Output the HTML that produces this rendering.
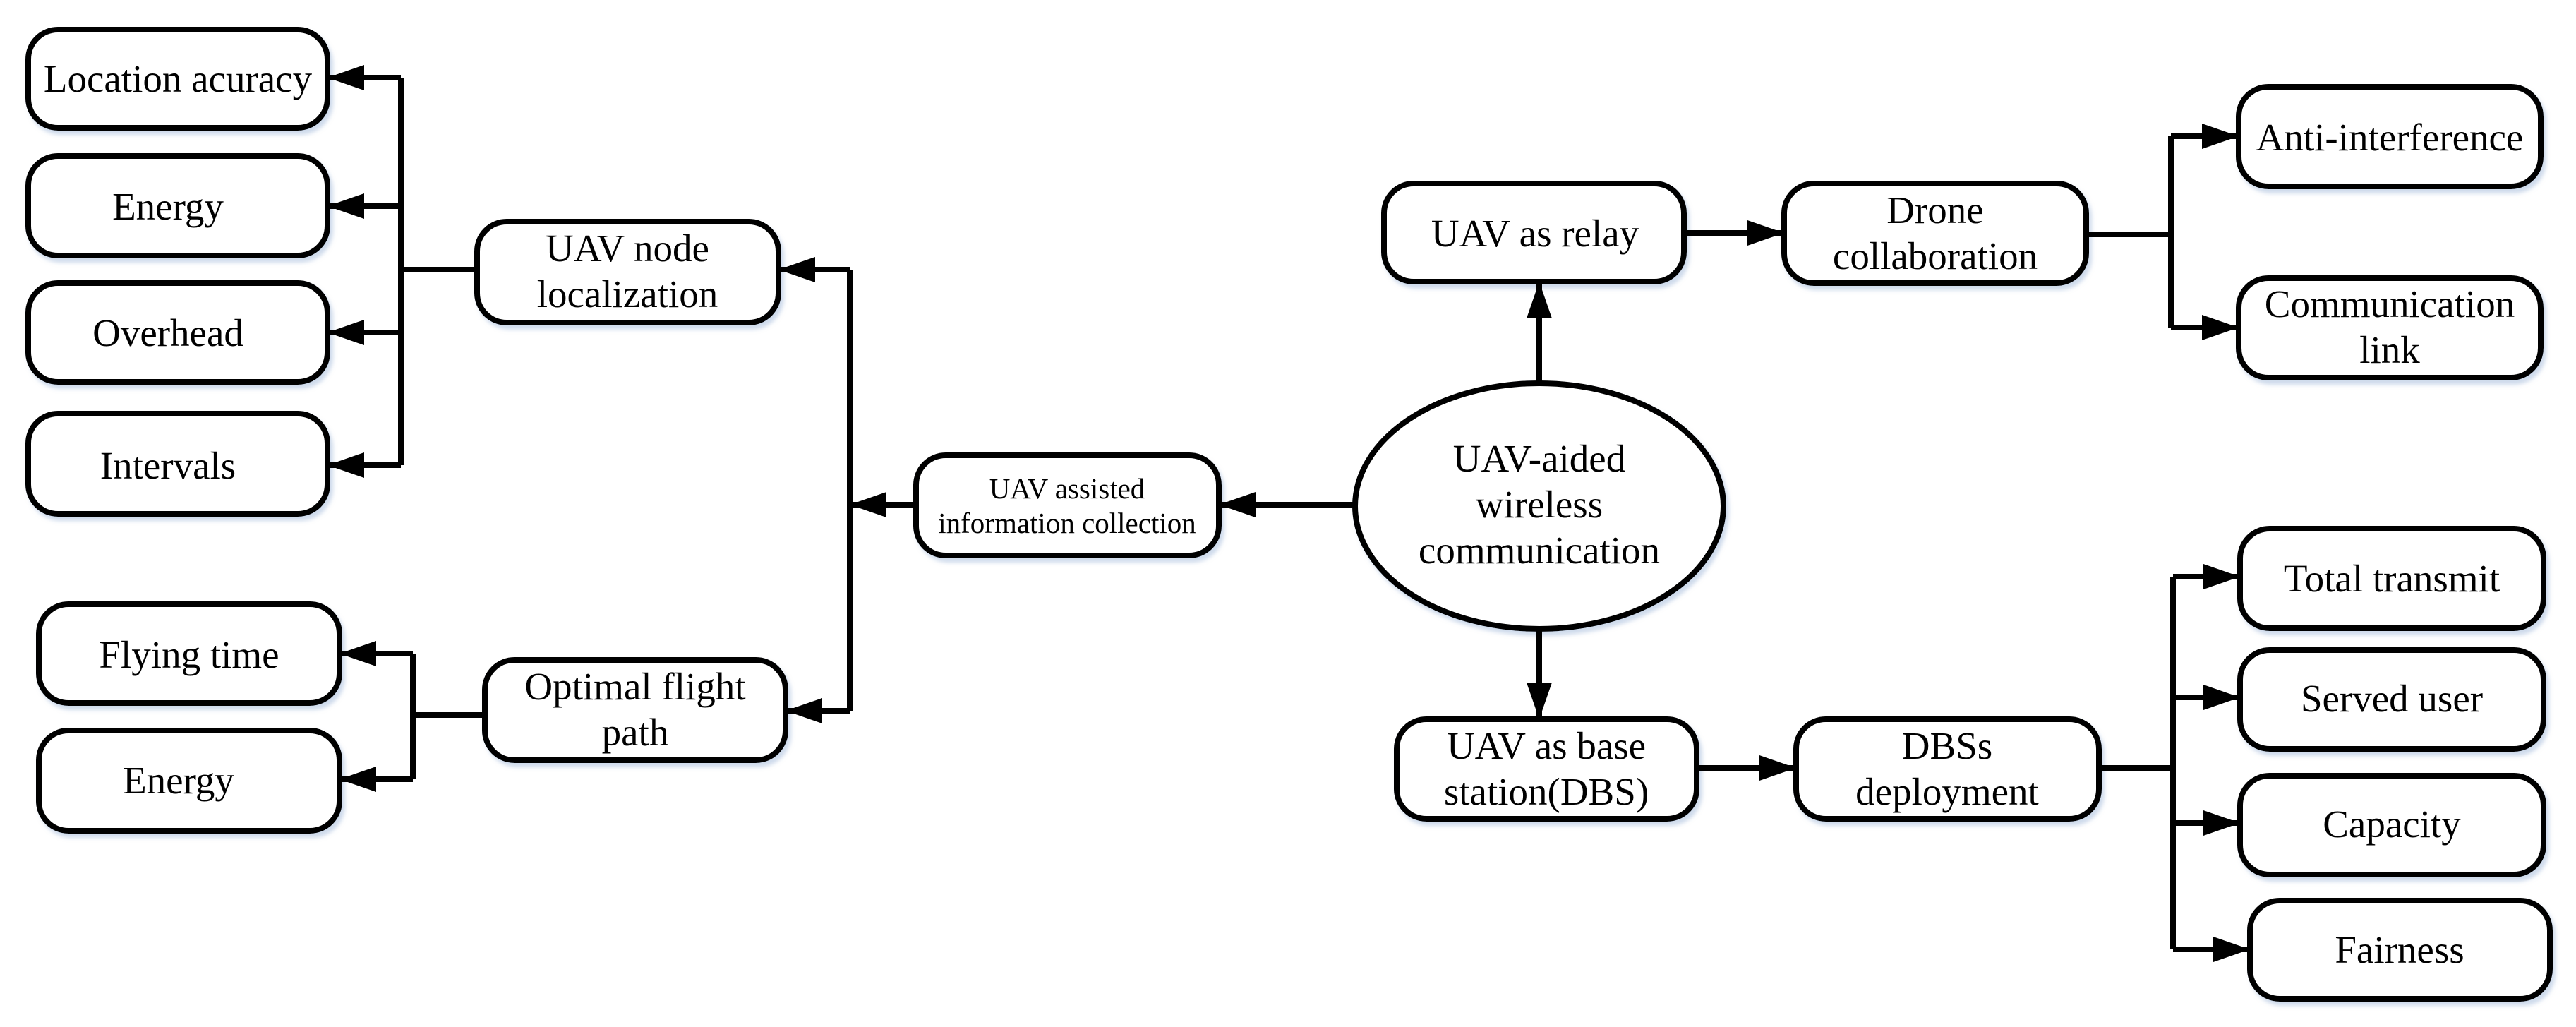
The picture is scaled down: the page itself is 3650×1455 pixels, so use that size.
<!DOCTYPE html>
<html><head><meta charset="utf-8"><style>
html,body{margin:0;padding:0;background:#fff}
svg{display:block}
svg text{font-family:"Liberation Serif","Times New Roman","DejaVu Serif",serif;fill:#000}
</style></head><body>
<svg width="3650" height="1455" viewBox="0 0 3650 1455" xmlns="http://www.w3.org/2000/svg" font-family="Liberation Serif, Times New Roman, DejaVu Serif, serif">
<defs>
<marker id="a" markerUnits="userSpaceOnUse" markerWidth="56" markerHeight="40" refX="54" refY="20" orient="auto">
<path d="M2,2 L54,20 L2,38 Z" fill="#000"/>
</marker>
<filter id="s" x="-10%" y="-10%" width="130%" height="140%"><feDropShadow dx="4" dy="6" stdDeviation="3" flood-color="#9fb6d8" flood-opacity="0.5"/></filter>
</defs>
<g fill="#fff" stroke="#000" stroke-width="8" filter="url(#s)">
<rect x="40" y="42" width="424" height="139" rx="42"/>
<rect x="40" y="221" width="424" height="141" rx="42"/>
<rect x="40" y="401" width="424" height="140" rx="42"/>
<rect x="40" y="586" width="424" height="142" rx="42"/>
<rect x="55" y="856" width="426" height="140" rx="42"/>
<rect x="55" y="1035" width="426" height="142" rx="42"/>
<rect x="676" y="314" width="427" height="143" rx="42"/>
<rect x="687" y="935" width="426" height="142" rx="42"/>
<rect x="1298" y="645" width="429" height="142" rx="42"/>
<ellipse cx="2181" cy="717" rx="261" ry="174"/>
<rect x="1961" y="260" width="425" height="139" rx="42"/>
<rect x="1979" y="1019" width="425" height="141" rx="42"/>
<rect x="2528" y="260" width="428" height="141" rx="42"/>
<rect x="2545" y="1019" width="429" height="141" rx="42"/>
<rect x="3172" y="123" width="428" height="141" rx="42"/>
<rect x="3172" y="394" width="428" height="141" rx="42"/>
<rect x="3174" y="749" width="430" height="141" rx="42"/>
<rect x="3174" y="921" width="430" height="140" rx="42"/>
<rect x="3174" y="1099" width="430" height="140" rx="42"/>
<rect x="3188" y="1276" width="425" height="139" rx="42"/>
</g>
<g stroke="#000" stroke-width="8" fill="none">
<path d="M568,110 V659 M568,382 H676"/>
<line x1="568" y1="110" x2="464" y2="110" marker-end="url(#a)"/>
<line x1="568" y1="292" x2="464" y2="292" marker-end="url(#a)"/>
<line x1="568" y1="471" x2="464" y2="471" marker-end="url(#a)"/>
<line x1="568" y1="659" x2="464" y2="659" marker-end="url(#a)"/>
<path d="M585,926 V1104 M585,1013 H687"/>
<line x1="585" y1="926" x2="481" y2="926" marker-end="url(#a)"/>
<line x1="585" y1="1104" x2="481" y2="1104" marker-end="url(#a)"/>
<path d="M1204,382 V1007"/>
<line x1="1204" y1="382" x2="1103" y2="382" marker-end="url(#a)"/>
<line x1="1204" y1="1007" x2="1113" y2="1007" marker-end="url(#a)"/>
<line x1="1298" y1="715" x2="1204" y2="715" marker-end="url(#a)"/>
<line x1="1920" y1="715" x2="1727" y2="715" marker-end="url(#a)"/>
<line x1="2181" y1="543" x2="2181" y2="399" marker-end="url(#a)"/>
<line x1="2181" y1="891" x2="2181" y2="1019" marker-end="url(#a)"/>
<line x1="2386" y1="330" x2="2528" y2="330" marker-end="url(#a)"/>
<line x1="2404" y1="1088" x2="2545" y2="1088" marker-end="url(#a)"/>
<path d="M2956,332 H3076 M3076,193 V464"/>
<line x1="3076" y1="193" x2="3172" y2="193" marker-end="url(#a)"/>
<line x1="3076" y1="464" x2="3172" y2="464" marker-end="url(#a)"/>
<path d="M2974,1088 H3079 M3079,817 V1345"/>
<line x1="3079" y1="817" x2="3174" y2="817" marker-end="url(#a)"/>
<line x1="3079" y1="988" x2="3174" y2="988" marker-end="url(#a)"/>
<line x1="3079" y1="1166" x2="3174" y2="1166" marker-end="url(#a)"/>
<line x1="3079" y1="1345" x2="3188" y2="1345" marker-end="url(#a)"/>
</g>
<g font-size="55" text-anchor="middle">
<text x="252" y="130">Location acuracy</text>
<text x="238" y="311">Energy</text>
<text x="238" y="490">Overhead</text>
<text x="238" y="678">Intervals</text>
<text x="268" y="946">Flying time</text>
<text x="253" y="1124">Energy</text>
<text x="889" y="370">UAV node</text>
<text x="889" y="435">localization</text>
<text x="900" y="991">Optimal flight</text>
<text x="900" y="1056">path</text>
<text x="2175" y="349">UAV as relay</text>
<text x="2191" y="1075">UAV as base</text>
<text x="2191" y="1140">station(DBS)</text>
<text x="2181" y="668">UAV-aided</text>
<text x="2181" y="733">wireless</text>
<text x="2181" y="798">communication</text>
<text x="2742" y="316">Drone</text>
<text x="2742" y="381">collaboration</text>
<text x="2759" y="1075">DBSs</text>
<text x="2759" y="1140">deployment</text>
<text x="3386" y="213">Anti-interference</text>
<text x="3386" y="449">Communication</text>
<text x="3386" y="514">link</text>
<text x="3389" y="838">Total transmit</text>
<text x="3389" y="1008">Served user</text>
<text x="3389" y="1186">Capacity</text>
<text x="3400" y="1364">Fairness</text>
</g>
<g font-size="41" text-anchor="middle">
<text x="1512" y="706">UAV assisted</text>
<text x="1512" y="755">information collection</text>
</g>
</svg>
</body></html>
